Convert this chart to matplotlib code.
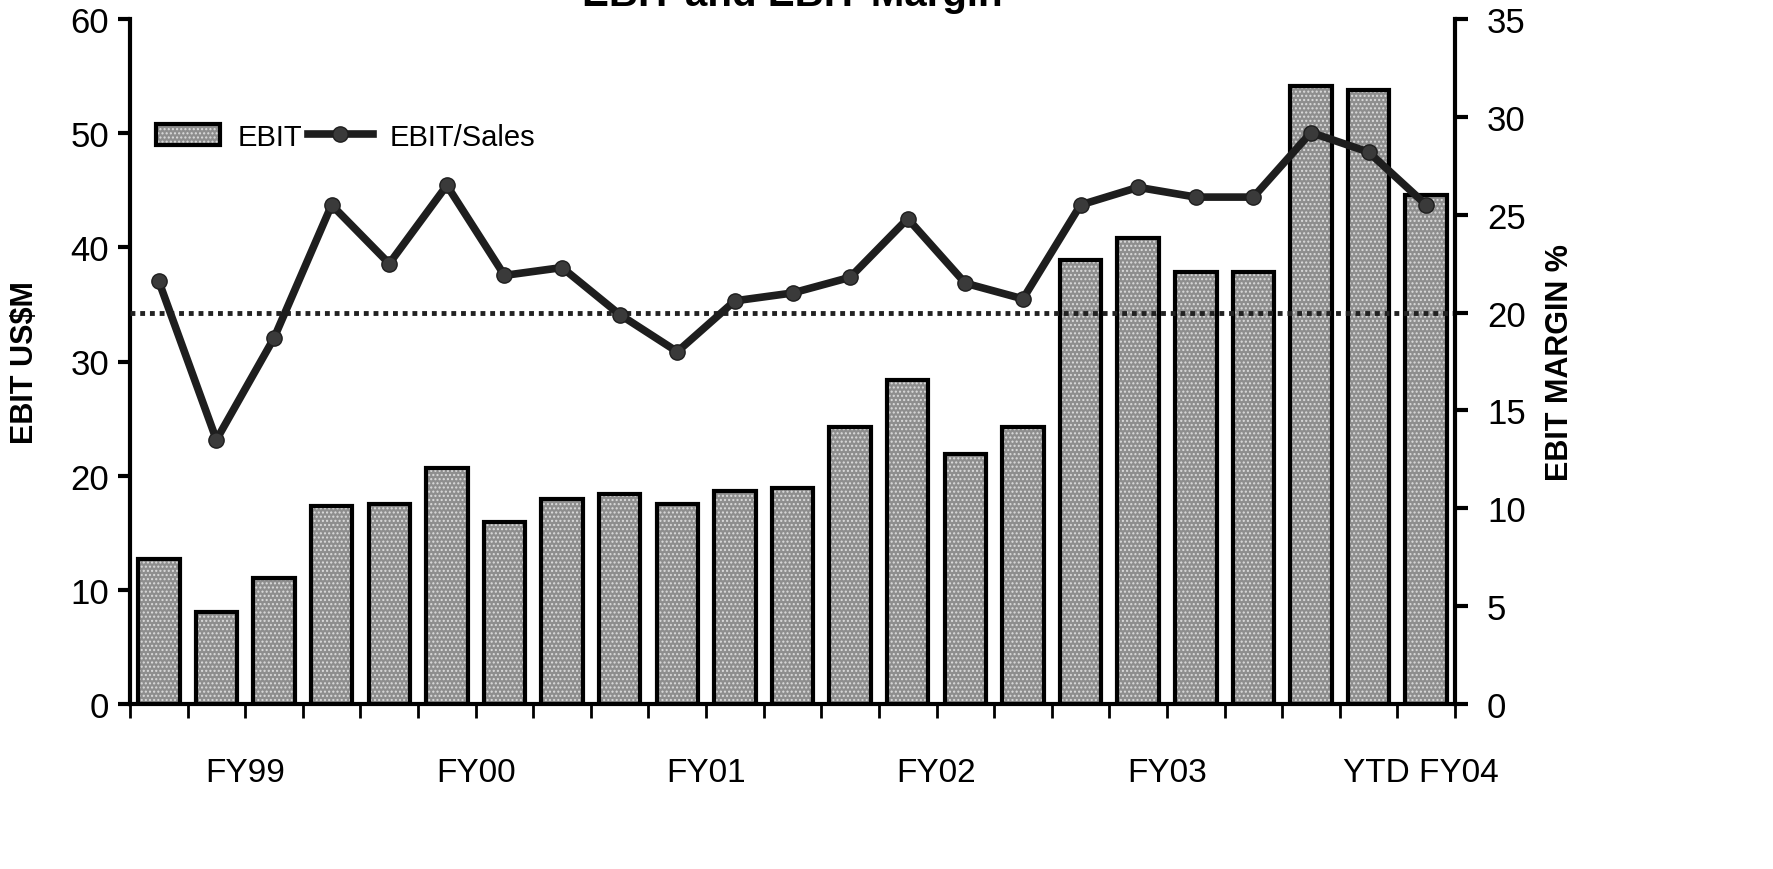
import numpy as np
import matplotlib.pyplot as plt

plt.rcParams['font.family'] = ['Liberation Sans', 'DejaVu Sans']

# quarterly EBIT (US$M) and EBIT/Sales margin (%)
ebit = [12.7, 8.1, 11.0, 17.3, 17.5, 20.7, 15.9, 18.0, 18.4, 17.5, 18.7, 18.9,
        24.3, 28.4, 21.9, 24.3, 38.9, 40.8, 37.8, 37.8, 54.1, 53.8, 44.6]
margin = [21.6, 13.5, 18.7, 25.5, 22.5, 26.5, 21.9, 22.3, 19.9, 18.0, 20.6, 21.0,
          21.8, 24.8, 21.5, 20.7, 25.5, 26.4, 25.9, 25.9, 29.2, 28.2, 25.5]
year_labels = ["FY99", "FY00", "FY01", "FY02", "FY03", "YTD FY04"]
year_pos = [1.5, 5.5, 9.5, 13.5, 17.5, 21.9]
target_margin = 20

x = np.arange(len(ebit))

fig = plt.figure(figsize=(17.73, 8.7), dpi=100)
ax = fig.add_axes([130 / 1773, 1 - 705 / 870, 1325 / 1773, 685 / 870])
ax2 = ax.twinx()

# bars: speckled grey fill, then black outline on top
fill = ax.bar(x, ebit, width=0.72, color='#8e8e8e', edgecolor='#dcdcdc', hatch='....',
              linewidth=0, zorder=2)
outline = ax.bar(x, ebit, width=0.72, facecolor='none', edgecolor='black', linewidth=3,
                 zorder=3)

ax2.axhline(target_margin, color='#222222', linestyle=(0, (1, 1)), linewidth=3.5, zorder=1)
line, = ax2.plot(x, margin, color='#1e1e1e', linewidth=5.5, marker='o', markersize=11,
                 markerfacecolor='#3a3a3a', markeredgecolor='#1e1e1e', zorder=4)

ax.set_xlim(-0.5, len(ebit) - 0.5)
ax.set_ylim(0, 60)
ax2.set_ylim(0, 35)
ax.set_yticks(np.arange(0, 61, 10))
ax2.set_yticks(np.arange(0, 36, 5))

ax.xaxis.remove_overlapping_locs = False
ax.set_xticks(np.arange(-0.5, len(ebit), 1))
ax.set_xticklabels([])
ax.set_xticks(year_pos, minor=True)
ax.set_xticklabels(year_labels, minor=True, fontsize=24)
ax.tick_params(axis='x', which='major', direction='out', length=10, width=2)
ax.tick_params(axis='x', which='minor', length=0, pad=38)

ax.tick_params(axis='y', direction='out', length=9, width=3, labelsize=25, pad=6)
ax2.tick_params(axis='y', direction='out', length=9, width=3, labelsize=25, pad=14)

for a in (ax, ax2):
    a.spines['top'].set_visible(False)
    for s in ('left', 'right', 'bottom'):
        a.spines[s].set_linewidth(3)
ax.spines['right'].set_visible(False)
ax2.spines['left'].set_visible(False)
ax2.spines['bottom'].set_visible(False)

ax.set_ylabel('EBIT US$M', fontsize=22, fontweight='bold', labelpad=22)
ax2.set_ylabel('EBIT MARGIN %', fontsize=22, fontweight='bold', labelpad=14, rotation=90)
ax2.yaxis.set_label_position('right')

fig.text(792 / 1773, 1 - 6 / 870, 'EBIT and EBIT Margin', fontsize=29, fontweight='bold',
         ha='center', va='baseline')

ax.legend([(fill[0], outline[0]), line], ['EBIT', 'EBIT/Sales'], ncol=2, frameon=False,
          fontsize=21, loc='upper left', bbox_to_anchor=(0.0, 0.887),
          handlelength=2.2, columnspacing=0.2, handletextpad=0.6)

fig.savefig('out.png', dpi=100)
